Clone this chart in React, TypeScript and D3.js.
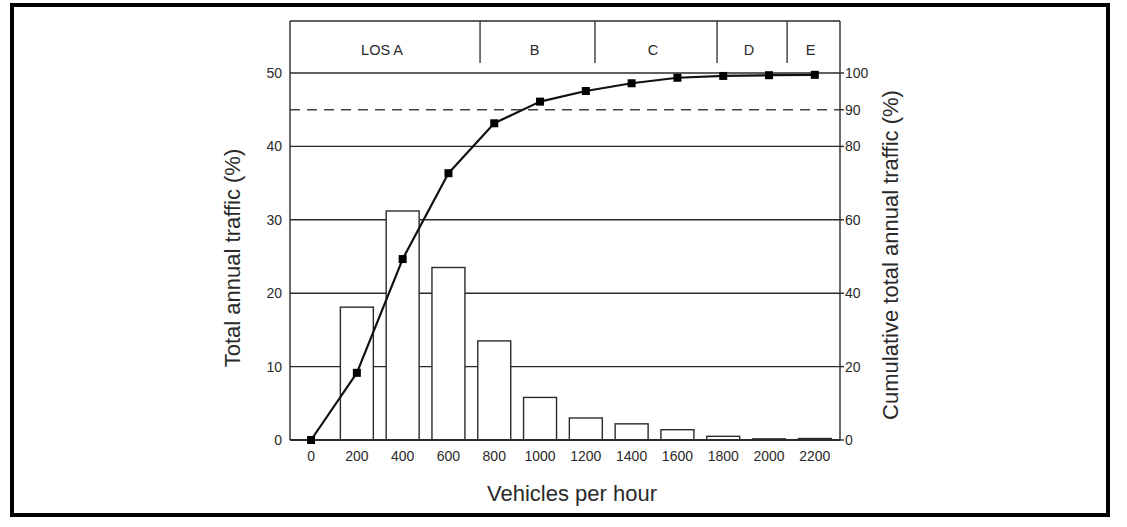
import React from "react";
import * as d3 from "d3";

// ---- data ----
const categories: number[] = [0, 200, 400, 600, 800, 1000, 1200, 1400, 1600, 1800, 2000, 2200];
const annualShare: number[] = [0, 18.1, 31.2, 23.5, 13.5, 5.8, 3.0, 2.2, 1.4, 0.5, 0.15, 0.2];
const cumulativeShare: number[] = [0, 18.3, 49.3, 72.7, 86.3, 92.2, 95.1, 97.2, 98.7, 99.2, 99.4, 99.5];
const leftTicks: number[] = [0, 10, 20, 30, 40, 50];
const rightTicks: number[] = [0, 20, 40, 60, 80, 90, 100];
const losLabels: string[] = ["LOS A", "B", "C", "D", "E"];
const losBreaks: number[] = [738, 1240, 1773, 2079];
const referenceLine = 90;

const W = 1127;
const H = 527;
const plotLeft = 290;
const plotRight = 840;
const plotTop = 21;
const plotBottom = 440;
const font = "'Liberation Sans', Arial, Helvetica, sans-serif";
const ink = "#2a2a2a";

export default function App() {
  const x = d3.scaleLinear().domain([-92, 2310]).range([plotLeft, plotRight]);
  const yL = d3.scaleLinear().domain([0, 50]).range([plotBottom, 73]);
  const yR = d3.scaleLinear().domain([0, 100]).range([plotBottom, 73]);
  const barW = x(144) - x(0);

  const line = d3
    .line<number>()
    .x((_, i) => x(categories[i]))
    .y((d) => yR(d));

  const bounds = [-92, ...losBreaks, 2310];

  return (
    <svg
      width={W}
      height={H}
      style={{ position: "absolute", left: 0, top: 0, background: "#fff" }}
      fontFamily={font}
    >
      <rect x={12} y={5} width={1096} height={510} fill="#fff" stroke="#000" strokeWidth={4} />

      {/* gridlines */}
      {leftTicks.slice(1).map((t) => (
        <line key={"g" + t} x1={plotLeft} x2={plotRight} y1={yL(t)} y2={yL(t)} stroke={ink} strokeWidth={1.4} />
      ))}
      <line
        x1={plotLeft}
        x2={plotRight}
        y1={yR(referenceLine)}
        y2={yR(referenceLine)}
        stroke="#444"
        strokeWidth={1.4}
        strokeDasharray="10 7"
      />

      {/* bars */}
      {annualShare.map((v, i) =>
        v > 0 ? (
          <rect
            key={"b" + i}
            x={x(categories[i]) - barW / 2}
            y={yL(v)}
            width={barW}
            height={Math.max(yL(0) - yL(v), 0.8)}
            fill="#fff"
            stroke={ink}
            strokeWidth={1.4}
          />
        ) : null
      )}

      {/* frame / axes */}
      <line x1={plotLeft} x2={plotRight} y1={plotTop} y2={plotTop} stroke={ink} strokeWidth={1.4} />
      <line x1={plotLeft} x2={plotLeft} y1={plotTop} y2={plotBottom} stroke={ink} strokeWidth={1.4} />
      <line x1={plotRight} x2={plotRight} y1={plotTop} y2={plotBottom} stroke={ink} strokeWidth={1.4} />
      <line x1={plotLeft} x2={plotRight} y1={plotBottom} y2={plotBottom} stroke={ink} strokeWidth={2} />

      {/* LOS band */}
      {losBreaks.map((b) => (
        <line key={"los" + b} x1={x(b)} x2={x(b)} y1={plotTop} y2={63} stroke={ink} strokeWidth={1.3} />
      ))}
      {losLabels.map((l, i) => (
        <text
          key={l}
          x={(x(bounds[i]) + x(bounds[i + 1])) / 2 - 3}
          y={55}
          textAnchor="middle"
          fontSize={14.5}
          fill={ink}
        >
          {l}
        </text>
      ))}

      {/* left ticks */}
      {leftTicks.map((t) => (
        <text key={"lt" + t} x={282} y={yL(t)} dy="0.36em" textAnchor="end" fontSize={14} fill={ink}>
          {t}
        </text>
      ))}
      {/* right ticks */}
      {rightTicks.map((t) => (
        <g key={"rt" + t}>
          <line x1={plotRight} x2={plotRight + 4} y1={yR(t)} y2={yR(t)} stroke={ink} strokeWidth={1.4} />
          <text x={845} y={yR(t)} dy="0.36em" textAnchor="start" fontSize={14} fill={ink}>
            {t}
          </text>
        </g>
      ))}
      {/* x ticks */}
      {categories.map((c) => (
        <text key={"xt" + c} x={x(c)} y={461} textAnchor="middle" fontSize={14} fill={ink}>
          {c}
        </text>
      ))}

      {/* titles */}
      <text x={572} y={501} textAnchor="middle" fontSize={22} fill={ink}>
        Vehicles per hour
      </text>
      <text transform="translate(240,258) rotate(-90)" textAnchor="middle" fontSize={22} fill={ink}>
        Total annual traffic (%)
      </text>
      <text transform="translate(898,255) rotate(-90)" textAnchor="middle" fontSize={22} fill={ink}>
        Cumulative total annual traffic (%)
      </text>

      {/* cumulative line */}
      <path d={line(cumulativeShare) || ""} fill="none" stroke="#111" strokeWidth={2.2} strokeLinejoin="round" />
      {cumulativeShare.map((v, i) => (
        <rect key={"m" + i} x={x(categories[i]) - 4} y={yR(v) - 4} width={8} height={8} fill="#000" />
      ))}
    </svg>
  );
}
